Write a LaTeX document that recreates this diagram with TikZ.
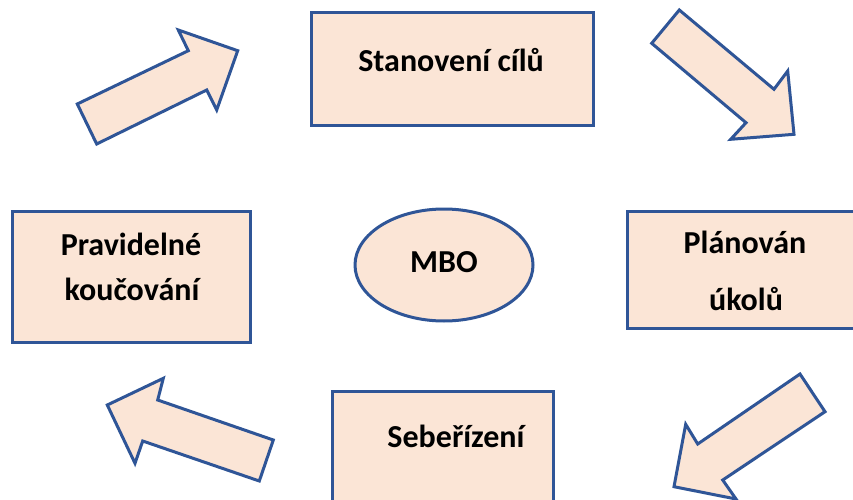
\documentclass[tikz,border=0pt]{standalone}
\usepackage{fontspec}
\setmainfont{Carlito}
\definecolor{boxfill}{HTML}{FBE5D6}
\definecolor{boxline}{HTML}{2F5597}
\tikzset{
  shapeline/.style={draw=boxline, fill=boxfill, line width=3pt},
  lbl/.style={anchor=base, inner sep=0pt, font=\fontsize{32}{38}\selectfont\bfseries, text=black}
}
\begin{document}
\begin{tikzpicture}[x=1pt,y=-1pt]
\clip (0,0) rectangle (853,500);
\fill[white] (0,0) rectangle (853,500);
% boxes
\draw[shapeline] (311,13) rectangle (593,125);
\node[inner sep=0pt] (stan) at (452,69) {};
\draw[shapeline] (12,211) rectangle (250,342);
\node[inner sep=0pt] (prav) at (131,276) {};
\draw[shapeline] (627,211) rectangle (880,328);
\node[inner sep=0pt] (plan) at (745,270) {};
\draw[shapeline] (332,391) rectangle (553,520);
\node[inner sep=0pt] (sebe) at (456,440) {};
% ellipse
\draw[shapeline] (444,265) ellipse [x radius=89, y radius=56];
\node[inner sep=0pt] (mbo) at (444,265) {};
% texts
\node[lbl] (tstan) at (451,72) {Stanovení cílů};
\node[lbl] (tprav1) at (131,255) {Pravidelné};
\node[lbl] (tprav2) at (132,300) {koučování};
\node[lbl] (tplan1) at (745,253) {Plánován};
\node[lbl] (tplan2) at (746,310) {úkolů};
\node[lbl] (tsebe) at (456,447) {Sebeřízení};
\node[lbl] (tmbo) at (444,272) {MBO};
% arrows
\draw[shapeline] (77.3,104) -- (188.3,50.7) -- (178.3,30) -- (237.7,50.7) -- (216.7,110) -- (206.7,90) -- (96.7,144) -- cycle;
\draw[shapeline] (651.7,43.3) -- (679.3,10) -- (774,89.3) -- (787.7,71) -- (794,134.3) -- (730.7,139.3) -- (746,122.7) -- cycle;
\draw[shapeline] (800,374) -- (825,411.7) -- (722.7,480) -- (736,499) -- (674,486.7) -- (685.7,424.3) -- (697.7,444) -- cycle;
\draw[shapeline] (273.3,440) -- (259.3,481) -- (142.7,441) -- (135,463.3) -- (107.3,405) -- (163.3,378.3) -- (157.7,400) -- cycle;
\end{tikzpicture}
\end{document}
